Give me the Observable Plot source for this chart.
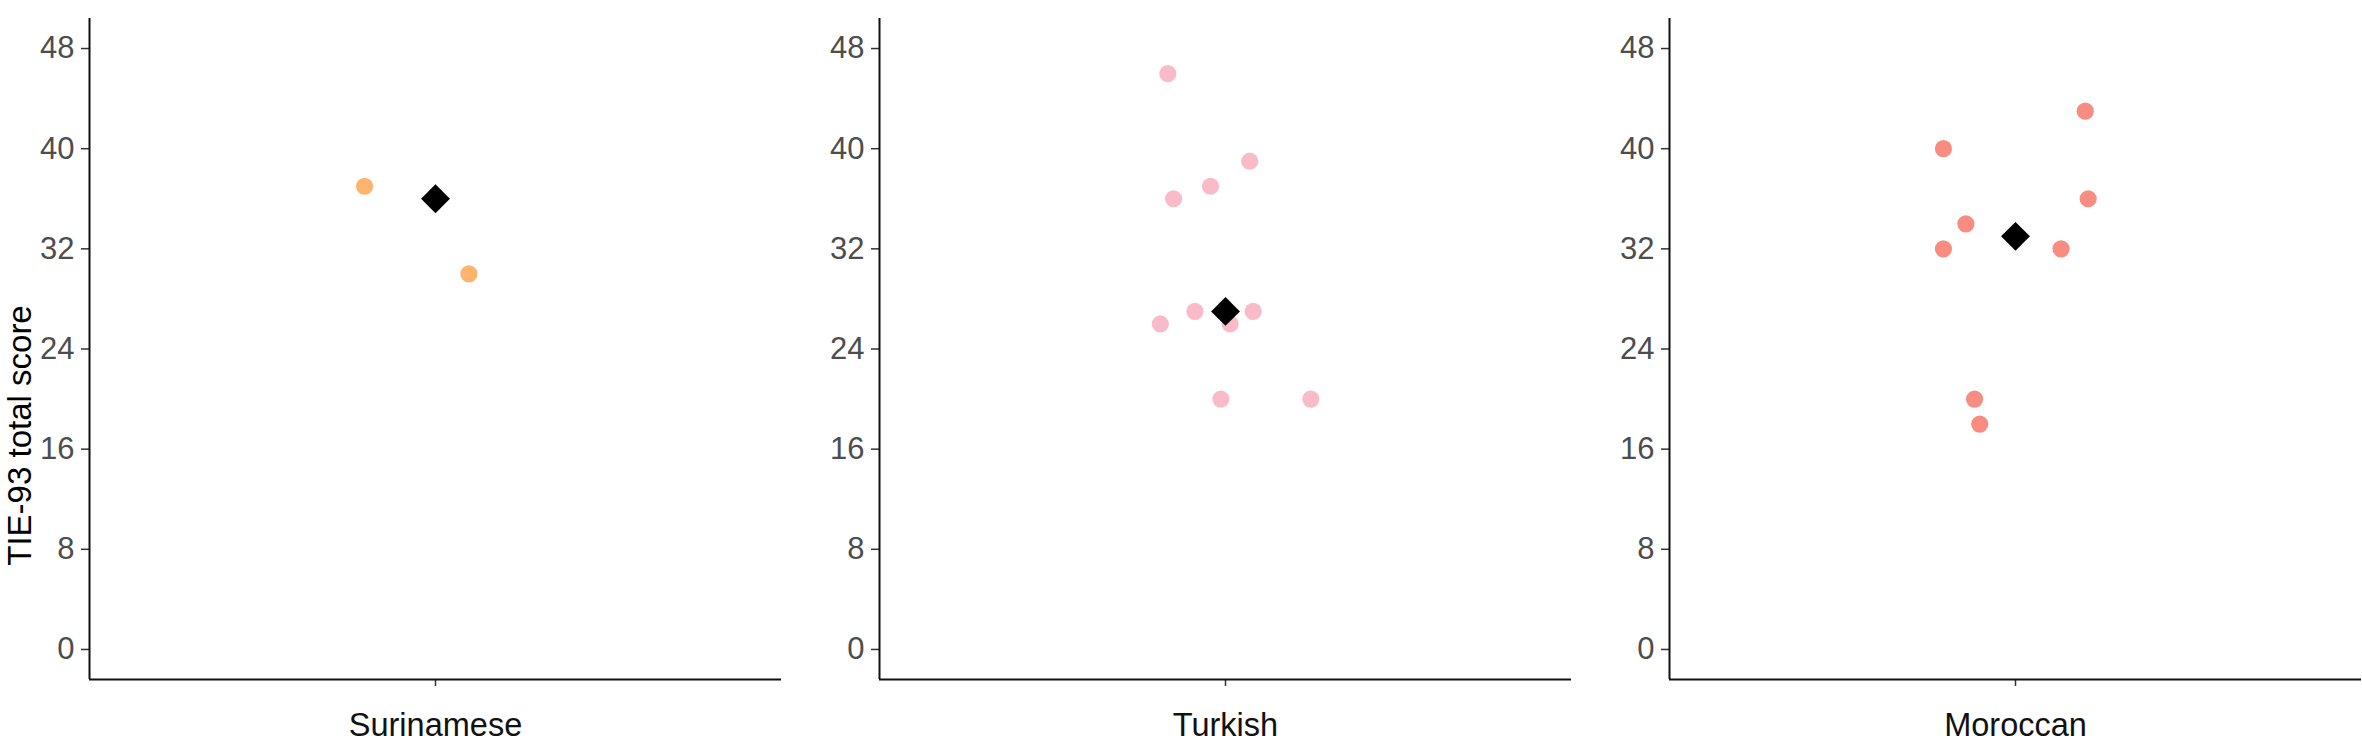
<!DOCTYPE html>
<html>
<head>
<meta charset="utf-8">
<script src="https://cdn.jsdelivr.net/npm/d3@7"></script>
<script src="https://cdn.jsdelivr.net/npm/@observablehq/plot@0.6"></script>
<style>
  html, body { margin: 0; padding: 0; background: #fff; }
  #chart { width: 2362px; height: 742px; overflow: hidden; }
</style>
</head>
<body>
<div id="chart"></div>
<script>
// ---- data ----
const categories = ["Surinamese", "Turkish", "Moroccan"];
const pointColors = ["#FDB46C", "#F9BBCA", "#F88C80"];
const yTicks = [0, 8, 16, 24, 32, 40, 48];
const yTitle = "TIE-93 total score";

const surinameseScores = [37, 30];
const surinameseJitter = [-0.123, 0.058];
const turkishScores = [46, 36, 37, 39, 26, 27, 26, 27, 20, 20];
const turkishJitter = [-0.100, -0.090, -0.026, 0.042, -0.113, -0.053, 0.008, 0.048, -0.008, 0.148];
const moroccanScores = [43, 40, 36, 34, 32, 32, 20, 18];
const moroccanJitter = [0.121, -0.125, 0.126, -0.086, -0.125, 0.079, -0.071, -0.062];
const groupMeans = [36, 27, 33];

// ---- tables built from the arrays ----
const toRows = (group, scores, jitter) => scores.map((s, i) => ({group, score: s, offset: jitter[i]}));
const points = [
  ...toRows("Surinamese", surinameseScores, surinameseJitter),
  ...toRows("Turkish", turkishScores, turkishJitter),
  ...toRows("Moroccan", moroccanScores, moroccanJitter)
];
const means = categories.map((g, i) => ({group: g, mean: groupMeans[i]}));

const chart = Plot.plot({
  width: 2362,
  height: 742,
  marginLeft: 89,
  marginRight: 0,
  marginTop: 18,
  marginBottom: 63,
  style: {fontFamily: "'Liberation Sans', Arial, sans-serif", background: "#fff", overflow: "visible"},
  fx: {domain: categories, paddingInner: 0.124, paddingOuter: 0, label: null},
  x: {domain: [-0.6, 0.6]},
  y: {domain: [-2.4, 50.4]},
  color: {domain: categories, range: pointColors},
  marks: [
    Plot.axisY({ticks: yTicks, tickSize: 8, tickPadding: 7, fontSize: 31, stroke: "#333", strokeWidth: 1.5, fill: "#4d4d4d", label: null, facetAnchor: null}),
    Plot.axisX({ticks: [0], tickSize: 7, tickFormat: () => "", stroke: "#333", strokeWidth: 1.5, label: null}),
    Plot.axisFx({anchor: "bottom", tickSize: 0, tickPadding: 33, fontSize: 32.5, fill: "#111", label: null}),
    Plot.ruleX([-0.6], {stroke: "#111", strokeWidth: 2}),
    Plot.ruleY([-2.4], {stroke: "#111", strokeWidth: 2}),
    Plot.text([{group: categories[0], t: yTitle}], {fx: "group", text: "t", frameAnchor: "left", textAnchor: "middle", lineAnchor: "middle", rotate: -90, dx: -69, dy: 86.5, fontSize: 33, fill: "#000"}),
    Plot.dot(points, {fx: "group", x: "offset", y: "score", r: 8.6, fill: "group", stroke: null}),
    Plot.dot(means, {fx: "group", x: 0, y: "mean", symbol: "diamond2", r: 13, fill: "#000"})
  ]
});
document.getElementById("chart").appendChild(chart);
</script>
</body>
</html>
